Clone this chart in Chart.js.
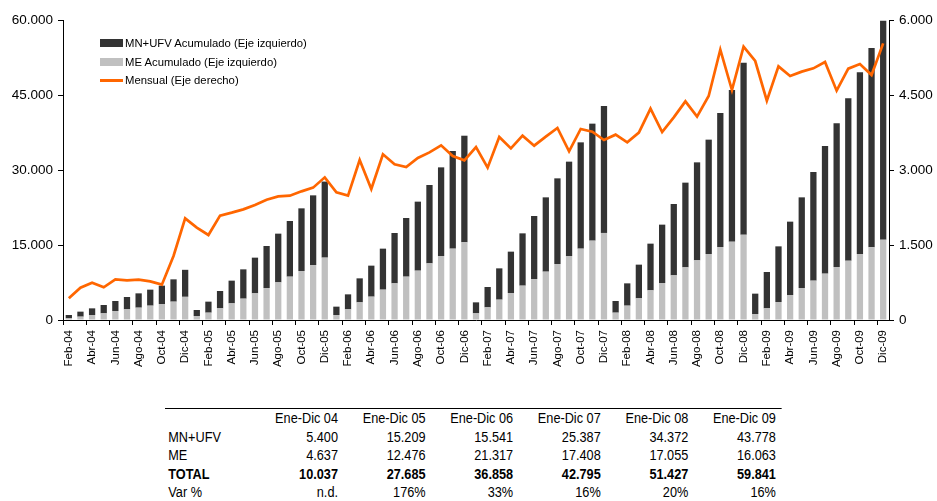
<!DOCTYPE html>
<html>
<head>
<meta charset="utf-8">
<script src="https://cdn.jsdelivr.net/npm/chart.js@4.4.0/dist/chart.umd.min.js"></script>
<style>
  body { margin: 0; background: #fff; font-family: "Liberation Sans", Arial, sans-serif; }
  #wrap { position: relative; width: 937px; height: 501px; }
  #myChart { position: absolute; left: 0; top: 0; }
  #legend { position: absolute; left: 100px; top: 34px; font-size: 11.3px; color: #000; }
  #legend .row { height: 18.5px; display: flex; align-items: center; white-space: nowrap; }
  #legend .sw { width: 23px; margin-right: 2px; }
  /* narrow look: regular Liberation Sans squeezed horizontally */
  #tbl { position: absolute; left: 165px; top: 408px; border-top: 1.5px solid #000; width: 752px;
         transform: scaleX(0.82); transform-origin: 0 0;
         font-family: "Liberation Sans", Arial, sans-serif; font-size: 15.5px; }
  #tbl table { border-collapse: collapse; table-layout: fixed; }
  #tbl td { padding: 0; height: 18.5px; line-height: 18.5px; text-align: right; white-space: nowrap; }
  #tbl td:first-child { text-align: left; padding-left: 4px; }
  #tbl tr.bold td { font-weight: bold; }
</style>
</head>
<body>
<div id="wrap">
  <canvas id="myChart" width="937" height="372"></canvas>
  <div id="legend"></div>
  <div id="tbl"></div>
</div>
<script>
// months Feb-04 .. Dic-09
const monthNames = ['Ene', 'Feb', 'Mar', 'Abr', 'May', 'Jun', 'Jul', 'Ago', 'Sep', 'Oct', 'Nov', 'Dic'];
const years = ['04', '05', '06', '07', '08', '09'];
const months = [];
years.forEach(y => {
    monthNames.forEach(m => months.push(m + '-' + y));
});
months.shift();   // series starts in Feb-04

// ME accumulated (left axis)
const meAcum = [
    330, 670, 1000, 1330, 1800, 2130, 2470, 2870, 3200, 3670, 4637,
    800, 1470, 2330, 3330, 4270, 5330, 6400, 7530, 8670, 9800, 11000, 12476,
    1000, 2130, 3530, 4670, 6070, 7330, 8670, 9870, 11330, 12800, 14270, 15541,
    1330, 2530, 4070, 5400, 6870, 8200, 9670, 11200, 12800, 14270, 15870, 17408,
    1470, 2870, 4330, 5930, 7400, 8930, 10530, 11930, 13200, 14600, 15670, 17055,
    1200, 2330, 3600, 5000, 6400, 7870, 9270, 10600, 11870, 13200, 14530, 16063
];

// MN+UFV accumulated (left axis, stacked on ME)
const mnAcum = [
    670, 1000, 1330, 1670, 2000, 2470, 2860, 3200, 3670, 4460, 5400,
    1200, 2200, 3470, 4540, 5860, 7140, 8400, 9740, 11130, 12530, 13930, 15209,
    1670, 3000, 4800, 6200, 8200, 10070, 11730, 13800, 15670, 17730, 19530, 21317,
    2200, 4070, 6260, 8270, 10460, 12600, 14860, 17130, 18870, 21260, 23400, 25387,
    2330, 4460, 6740, 9340, 11670, 14270, 16940, 19600, 22870, 26800, 30330, 34372,
    4070, 7270, 11130, 14670, 18130, 21730, 25530, 28730, 32460, 36330, 39870, 43778
];

// Monthly (right axis)
const mensual = [
    433, 647, 747, 653, 813, 793, 807, 773, 707, 1280, 2033,
    1847, 1700, 2087, 2147, 2213, 2300, 2407, 2473, 2487, 2573, 2647, 2853,
    2553, 2487, 3200, 2620, 3313, 3113, 3060, 3240, 3353, 3493, 3280, 3193,
    3460, 3047, 3660, 3433, 3687, 3487, 3667, 3840, 3373, 3820, 3767, 3600,
    3707, 3553, 3747, 4227, 3760, 4053, 4373, 4067, 4480, 5407, 4600, 5467,
    5180, 4387, 5073, 4880, 4967, 5033, 5160, 4587, 5027, 5120, 4900, 5533
];

// table under the chart
const tableHeaders = ['Ene-Dic 04', 'Ene-Dic 05', 'Ene-Dic 06', 'Ene-Dic 07', 'Ene-Dic 08', 'Ene-Dic 09'];
const tableMN = ['5.400', '15.209', '15.541', '25.387', '34.372', '43.778'];
const tableME = ['4.637', '12.476', '21.317', '17.408', '17.055', '16.063'];
const tableTotal = ['10.037', '27.685', '36.858', '42.795', '51.427', '59.841'];
const tableVar = ['n.d.', '176%', '33%', '16%', '20%', '16%'];

const DARK = '#333333';
const GRAY = '#c0c0c0';
const ORANGE = '#ff6600';

function fmt(v) {
    return String(v).replace(/\B(?=(\d{3})+(?!\d))/g, '.');
}

function createChart() {
    const ctx = document.getElementById('myChart');
    const tickFont = { family: '"Liberation Sans", Arial, sans-serif', size: 13.5 };
    const myChart = new Chart(ctx, {
        type: 'bar',
        data: {
            labels: months,
            datasets: [
                {
                    label: 'ME Acumulado (Eje izquierdo)',
                    data: meAcum,
                    backgroundColor: GRAY,
                    yAxisID: 'y',
                    order: 1,
                    barPercentage: 0.54,
                    categoryPercentage: 1
                },
                {
                    label: 'MN+UFV Acumulado (Eje izquierdo)',
                    data: mnAcum,
                    backgroundColor: DARK,
                    yAxisID: 'y',
                    order: 1,
                    barPercentage: 0.54,
                    categoryPercentage: 1
                },
                {
                    type: 'line',
                    label: 'Mensual (Eje derecho)',
                    data: mensual,
                    borderColor: ORANGE,
                    backgroundColor: ORANGE,
                    borderWidth: 2.7,
                    pointRadius: 0,
                    tension: 0,
                    yAxisID: 'y2',
                    order: 0
                }
            ]
        },
        options: {
            responsive: false,
            animation: false,
            devicePixelRatio: 1,
            layout: { padding: { top: 20, left: 0, right: 0, bottom: 0 } },
            plugins: {
                legend: { display: false },
                tooltip: { enabled: false }
            },
            scales: {
                x: {
                    stacked: true,
                    offset: true,
                    border: { display: true, color: '#000', width: 1 },
                    grid: {
                        offset: true,
                        drawOnChartArea: false,
                        drawTicks: true,
                        tickLength: 5,
                        color: c => (c.index !== undefined && c.index % 2 === 0) ? '#000' : 'rgba(0,0,0,0)'
                    },
                    ticks: {
                        autoSkip: false,
                        maxRotation: 90,
                        minRotation: 90,
                        padding: 5,
                        color: '#000',
                        font: { family: '"Liberation Sans", Arial, sans-serif', size: 11.5 },
                        callback: function (val, index) {
                            return index % 2 === 0 ? this.getLabelForValue(val) : '';
                        }
                    },
                    afterFit: scale => { scale.height = 52; }
                },
                y: {
                    stacked: true,
                    position: 'left',
                    min: 0,
                    max: 60000,
                    border: { display: true, color: '#000', width: 1 },
                    grid: { drawOnChartArea: false, drawTicks: true, tickLength: 5, color: '#000' },
                    ticks: {
                        stepSize: 15000,
                        padding: 5,
                        color: '#000',
                        font: tickFont,
                        callback: v => fmt(v)
                    },
                    afterFit: scale => { scale.width = 63; }
                },
                y2: {
                    position: 'right',
                    min: 0,
                    max: 6000,
                    border: { display: true, color: '#000', width: 1 },
                    grid: { drawOnChartArea: false, drawTicks: true, tickLength: 5, color: '#000' },
                    ticks: {
                        stepSize: 1500,
                        padding: 5,
                        color: '#000',
                        font: tickFont,
                        callback: v => fmt(v)
                    },
                    afterFit: scale => { scale.width = 48; }
                }
            }
        }
    });

    // legend drawn inside the plot, same order as the original
    const legend = document.getElementById('legend');
    [1, 0, 2].forEach(i => {
        const ds = myChart.data.datasets[i];
        const row = document.createElement('div');
        row.className = 'row';
        const sw = document.createElement('span');
        sw.className = 'sw';
        if (ds.type === 'line') {
            sw.style.height = '2.5px';
            sw.style.background = ds.borderColor;
        } else {
            sw.style.height = '8px';
            sw.style.background = ds.backgroundColor;
        }
        row.appendChild(sw);
        row.appendChild(document.createTextNode(ds.label));
        legend.appendChild(row);
    });
}

function buildTable() {
    // column widths before the 0.82 horizontal squeeze
    const widths = [104.9, 106.1, 106.8, 106.8, 106.8, 106.8, 106.8];
    let html = '<table><colgroup>' + widths.map(w => '<col style="width:' + w + 'px">').join('') + '</colgroup>';
    const row = (name, vals, cls) =>
        '<tr' + (cls ? ' class="' + cls + '"' : '') + '><td>' + name + '</td>' +
        vals.map(v => '<td>' + v + '</td>').join('') + '</tr>';
    html += row('', tableHeaders);
    html += row('MN+UFV', tableMN);
    html += row('ME', tableME);
    html += row('TOTAL', tableTotal, 'bold');
    html += row('Var %', tableVar);
    html += '</table>';
    document.getElementById('tbl').innerHTML = html;
}

createChart();
buildTable();
</script>
</body>
</html>
